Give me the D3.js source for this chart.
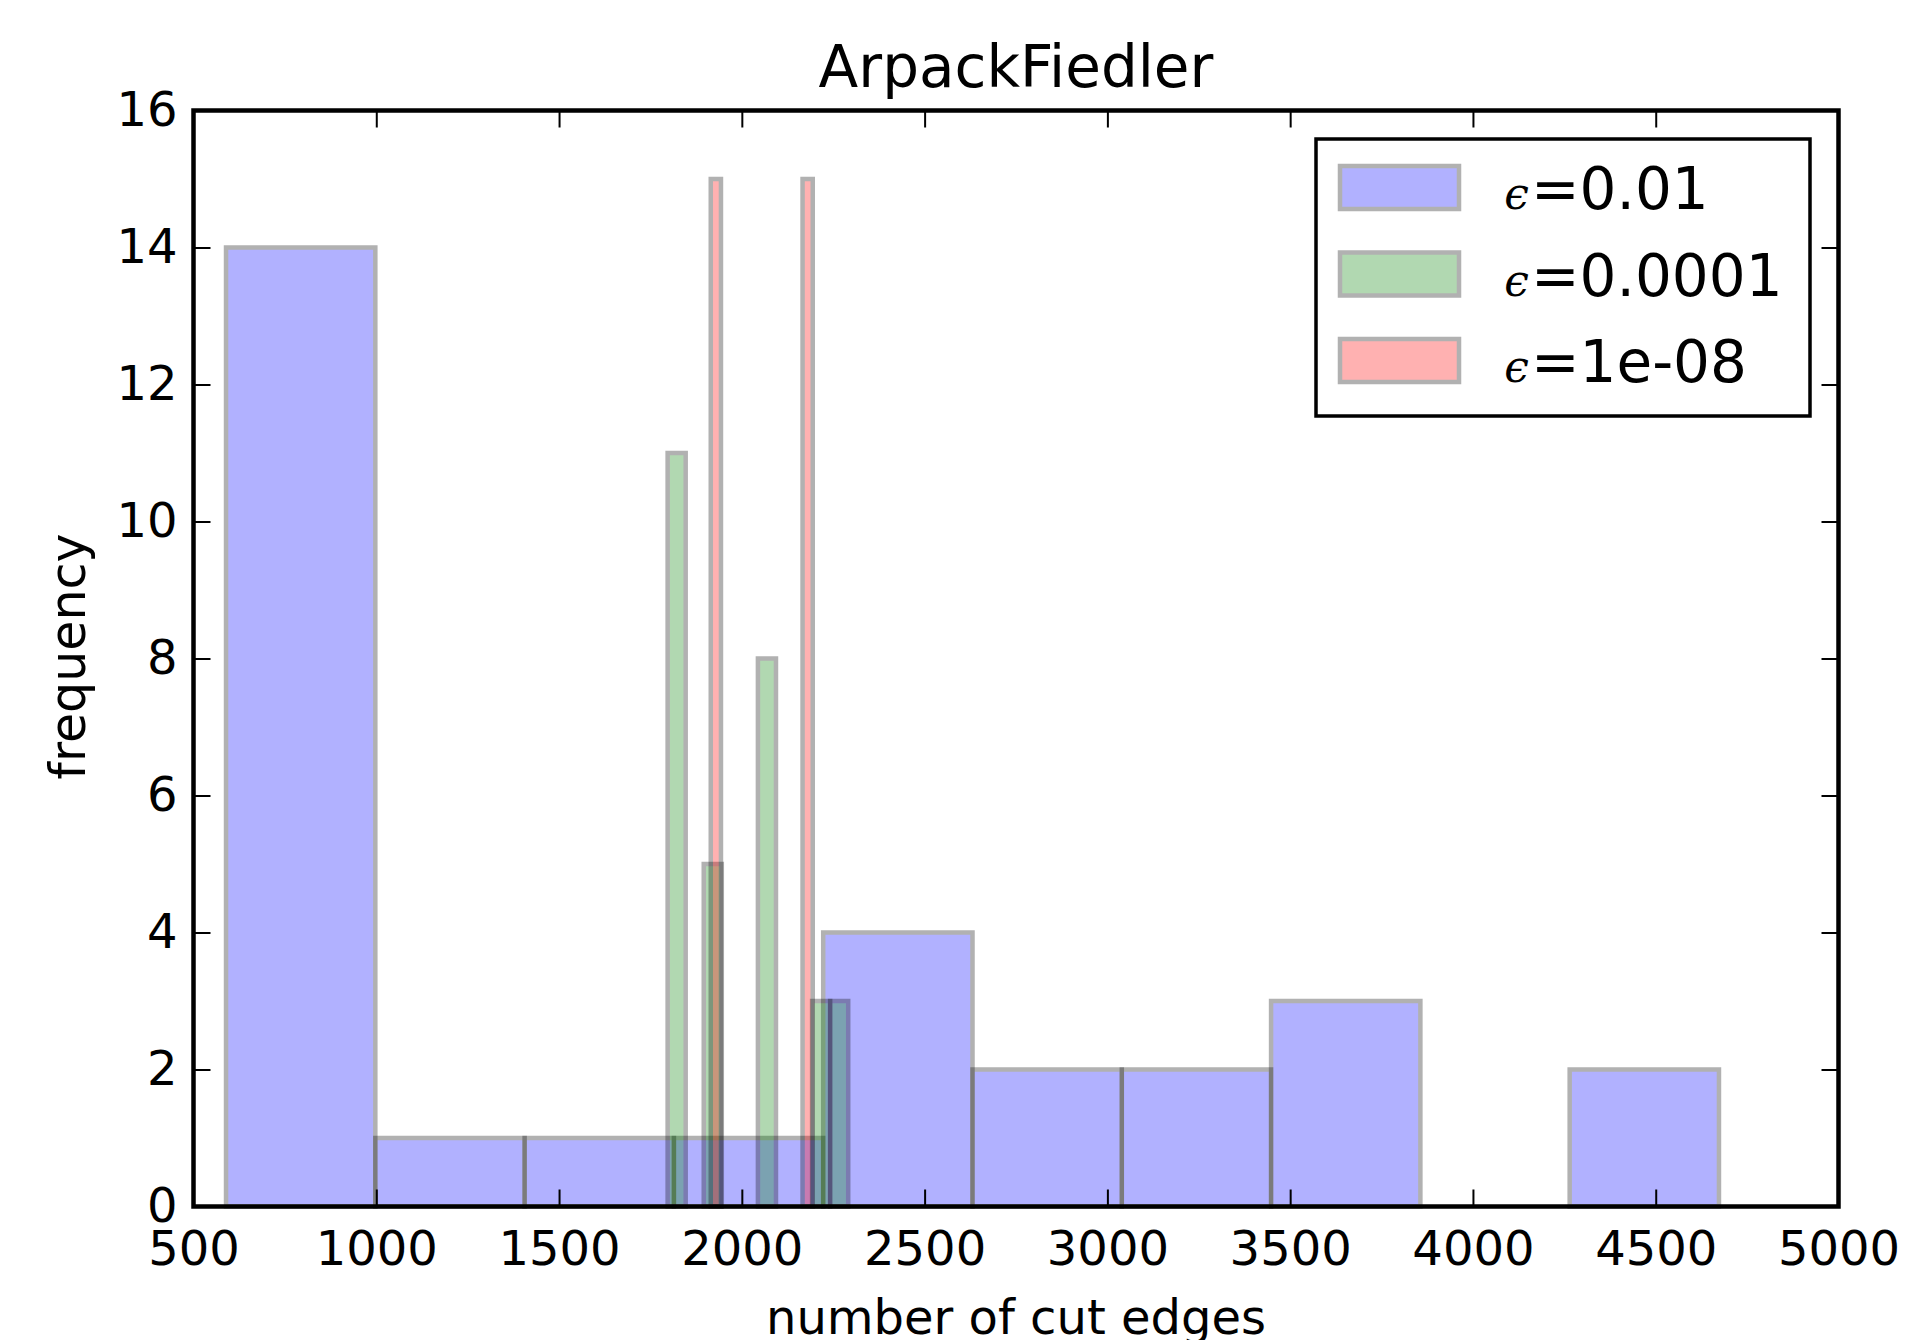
<!DOCTYPE html>
<html>
<head>
<meta charset="utf-8">
<script src="https://cdn.jsdelivr.net/npm/d3@7"></script>
<style>
  html, body { margin: 0; padding: 0; background: #ffffff; }
  svg { display: block; }
  text { font-family: "DejaVu Sans", sans-serif; fill: #000; }
</style>
</head>
<body>
<svg id="chart" width="1914" height="1340"></svg>
<script>
// Histogram counts of cut edges for three eigen-solver tolerances (10 bins each)
const seriesNames = ["0.01", "0.0001", "1e-08"];
const seriesColors = ["#0000ff", "#008000", "#ff0000"];

const blueRange = [589, 4673];
const blueCounts = [14, 1, 1, 1, 4, 2, 2, 3, 0, 2];

const greenRange = [1797, 2291];
const greenCounts = [11, 0, 5, 0, 0, 8, 0, 0, 3, 3];

const redRange = [1915, 2194];
const redCounts = [15, 0, 0, 0, 0, 0, 0, 0, 0, 15];

const xTicks = [500, 1000, 1500, 2000, 2500, 3000, 3500, 4000, 4500, 5000];
const yTicks = [0, 2, 4, 6, 8, 10, 12, 14, 16];

const titleText = "ArpackFiedler";
const xLabelText = "number of cut edges";
const yLabelText = "frequency";

// ---- layout ----
const plot = { left: 193.5, right: 1838.5, top: 110.5, bottom: 1206.5 };
const svg = d3.select("#chart");
svg.append("rect").attr("width", 1914).attr("height", 1340).attr("fill", "#fff");

const x = d3.scaleLinear().domain([500, 5000]).range([plot.left, plot.right]);
const y = d3.scaleLinear().domain([0, 16]).range([plot.bottom, plot.top]);

// turn a range + counts into bins of equal width
function toBins(range, counts) {
  const w = (range[1] - range[0]) / counts.length;
  return counts.map((c, i) => ({ x0: range[0] + i * w, x1: range[0] + (i + 1) * w, count: c }));
}

const series = [
  { name: seriesNames[0], color: seriesColors[0], bins: toBins(blueRange, blueCounts) },
  { name: seriesNames[1], color: seriesColors[1], bins: toBins(greenRange, greenCounts) },
  { name: seriesNames[2], color: seriesColors[2], bins: toBins(redRange, redCounts) }
];

const barStroke = 4.5;
const bars = svg.append("g");
series.forEach(s => {
  bars.append("g").selectAll("rect")
    .data(s.bins.filter(b => b.count > 0))
    .join("rect")
    .attr("x", d => x(d.x0))
    .attr("width", d => x(d.x1) - x(d.x0))
    .attr("y", d => y(d.count))
    .attr("height", d => y(0) - y(d.count))
    .attr("fill", s.color)
    .attr("stroke", "#000")
    .attr("stroke-width", barStroke)
    .attr("opacity", 0.3);
});

// ---- axes (ticks point inward on all four sides) ----
const tickLen = 17;
const fontSize = 48;
const plain = d3.format("d");

function styleAxis(g) {
  g.attr("font-family", null).attr("font-size", null);
  g.select(".domain").remove();
  g.selectAll(".tick line").attr("stroke", "#000").attr("stroke-width", 2);
  g.selectAll(".tick text").style("font-size", fontSize + "px")
    .style("font-family", "'DejaVu Sans', sans-serif").attr("fill", "#000");
}

svg.append("g")
  .attr("transform", `translate(0,${plot.bottom})`)
  .call(d3.axisBottom(x).tickValues(xTicks).tickFormat(plain)
    .tickSize(-tickLen).tickSizeOuter(0).tickPadding(24))
  .call(styleAxis);

svg.append("g")
  .attr("transform", `translate(0,${plot.top})`)
  .call(d3.axisTop(x).tickValues(xTicks).tickSize(-tickLen).tickSizeOuter(0).tickFormat(""))
  .call(styleAxis);

svg.append("g")
  .attr("transform", `translate(${plot.left},0)`)
  .call(d3.axisLeft(y).tickValues(yTicks).tickFormat(plain)
    .tickSize(-tickLen).tickSizeOuter(0).tickPadding(16))
  .call(styleAxis);

svg.append("g")
  .attr("transform", `translate(${plot.right},0)`)
  .call(d3.axisRight(y).tickValues(yTicks).tickSize(-tickLen).tickSizeOuter(0).tickFormat(""))
  .call(styleAxis);

// frame
svg.append("rect")
  .attr("x", plot.left).attr("y", plot.top)
  .attr("width", plot.right - plot.left).attr("height", plot.bottom - plot.top)
  .attr("fill", "none").attr("stroke", "#000").attr("stroke-width", 4.5);

// ---- titles ----
const cx = (plot.left + plot.right) / 2;
svg.append("text").attr("x", cx).attr("y", 86.5).attr("text-anchor", "middle")
  .style("font-size", "58px").text(titleText);

svg.append("text").attr("x", cx).attr("y", 1334).attr("text-anchor", "middle")
  .style("font-size", "48px").text(xLabelText);

svg.append("text")
  .attr("transform", `translate(85,${(plot.top + plot.bottom) / 2 - 2}) rotate(-90)`)
  .attr("text-anchor", "middle")
  .style("font-size", "49px").text(yLabelText);

// ---- legend ----
const legend = svg.append("g");
legend.append("rect")
  .attr("x", 1316).attr("y", 139).attr("width", 494).attr("height", 277)
  .attr("fill", "#fff").attr("stroke", "#000").attr("stroke-width", 3.5);

const rowY = d3.scaleLinear().domain([0, 1]).range([187.5, 274]);
series.forEach((s, i) => {
  const cy = rowY(i);
  legend.append("rect")
    .attr("x", 1340).attr("y", cy - 21.5).attr("width", 119).attr("height", 43)
    .attr("fill", s.color).attr("stroke", "#000").attr("stroke-width", barStroke)
    .attr("opacity", 0.3);
  legend.append("text").attr("x", 1529).attr("y", cy + 21.5)
    .attr("text-anchor", "end")
    .style("font-family", "'DejaVu Serif', serif").style("font-style", "italic")
    .style("font-size", "44px").text("\u03F5");
  legend.append("text").attr("x", 1531).attr("y", cy + 21.5)
    .style("font-size", "58px").text("=" + s.name);
});
</script>
</body>
</html>
